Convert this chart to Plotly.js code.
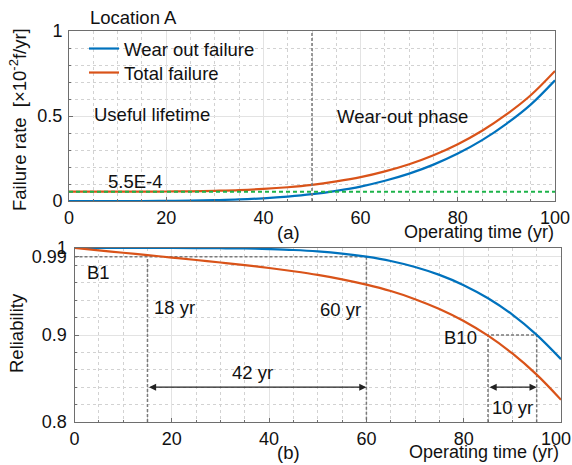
<!DOCTYPE html>
<html>
<head>
<meta charset="utf-8">
<script src="https://cdn.plot.ly/plotly-3.0.1.min.js"></script>
<style>html,body{margin:0;padding:0;background:#fff}#chart{width:572px;height:465px}</style>
</head>
<body>
<div id="chart"></div>
<script>
// ---- data ----
const years = [0,5,10,15,20,25,30,35,40,45,50,55,60,65,70,75,80,85,90,95,100];
// failure rate, units of 1e-2 failures / yr
const wearRate  = [0,0,0,0,0.001,0.002,0.005,0.009,0.016,0.026,0.040,0.060,0.085,0.119,0.161,0.214,0.279,0.358,0.454,0.567,0.710];
const totalRate = [0.055,0.055,0.055,0.055,0.056,0.057,0.060,0.064,0.071,0.081,0.095,0.115,0.140,0.174,0.216,0.269,0.334,0.413,0.509,0.622,0.765];
const constRateX = [0,100];
const constRateY = [0.055,0.055];
const phaseX = [50,50];
const phaseY = [0,1];
// reliability
const wearRel  = [1,1,1,1,1,0.9999,0.9997,0.9994,0.9987,0.9977,0.9961,0.9936,0.9900,0.9851,0.9782,0.9691,0.9573,0.9422,0.9234,0.9002,0.8722];
const totalRel = [1,0.9973,0.9945,0.9918,0.9890,0.9862,0.9833,0.9803,0.9770,0.9733,0.9691,0.9640,0.9579,0.9505,0.9412,0.9299,0.9161,0.8992,0.8788,0.8544,0.8255];
// B1 / B10 guide lines
const b1X = [15,15,null,0,60,null,60,60];
const b1Y = [0.8,0.99,null,0.99,0.99,null,0.99,0.8];
const b10X = [85,85,95,95];
const b10Y = [0.8,0.9,0.9,0.8];
const xTicks = [0,20,40,60,80,100];
const xTickText = ['0','20','40','60','80','100'];
const xTickText2 = ['0','20','40','60','80','100\u00a0\u00a0'];
const rateTicks = [0,0.5,1];
const rateTickText = ['0','0.5','1'];
const relTicks = [0.8,0.9,0.99,1];
const relTickText = ['0.8','0.9','0.99','1'];

const FONT = 'Liberation Sans, Arial, sans-serif';
const BLUE = '#0072BD', ORANGE = '#D95319', GREEN = '#1db34a', GUIDE = '#7a7a7a';
const W = 572, H = 465;
const TXT = 18.5;

const traces = [
  {x: years, y: wearRate, name: 'Wear out failure', legend: 'legend', mode: 'lines', line: {color: BLUE, width: 2.2, shape: 'spline'}, xaxis: 'x', yaxis: 'y'},
  {x: years, y: totalRate, name: 'Total failure', legend: 'legend2', mode: 'lines', line: {color: ORANGE, width: 2.2, shape: 'spline'}, xaxis: 'x', yaxis: 'y'},
  {x: constRateX, y: constRateY, mode: 'lines', showlegend: false, line: {color: GREEN, width: 2, dash: '4px,3px'}, xaxis: 'x', yaxis: 'y'},
  {x: phaseX, y: phaseY, mode: 'lines', showlegend: false, line: {color: GUIDE, width: 1.5, dash: '3px,2px'}, xaxis: 'x', yaxis: 'y'},
  {x: b1X, y: b1Y, mode: 'lines', showlegend: false, connectgaps: false, line: {color: GUIDE, width: 1.5, dash: '3px,2px'}, xaxis: 'x2', yaxis: 'y2'},
  {x: b10X, y: b10Y, mode: 'lines', showlegend: false, line: {color: GUIDE, width: 1.5, dash: '3px,2px'}, xaxis: 'x2', yaxis: 'y2'},
  {x: years, y: wearRel, mode: 'lines', showlegend: false, line: {color: BLUE, width: 2.2, shape: 'spline'}, xaxis: 'x2', yaxis: 'y2'},
  {x: years, y: totalRel, mode: 'lines', showlegend: false, line: {color: ORANGE, width: 2.2, shape: 'spline'}, xaxis: 'x2', yaxis: 'y2'}
];

const minorGrid = (tick0, dtick) => ({tickmode: 'linear', tick0, dtick, showgrid: true, griddash: 'dot', gridcolor: '#d2d2d2', ticks: 'inside', ticklen: 2, tickcolor: '#6e6e6e'});

function axisBase(extra) {
  return Object.assign({
    showline: true, mirror: true, linecolor: '#6e6e6e', linewidth: 1,
    ticks: 'inside', ticklen: 4, tickcolor: '#6e6e6e',
    showgrid: true, gridcolor: '#e3e3e3', gridwidth: 1,
    zeroline: false, ticklabeloverflow: 'allow',
    tickfont: {family: FONT, size: 18, color: '#111'}
  }, extra);
}

const ann = (text, xref, yref, x, y, xa, ya, extra) => Object.assign({text, xref, yref, x, y, xanchor: xa, yanchor: ya, showarrow: false, font: {family: FONT, size: TXT, color: '#111'}}, extra || {});
const legendBox = (yPix) => ({x: 84/W, y: 1 - yPix/H, xanchor: 'left', yanchor: 'middle', bgcolor: 'rgba(0,0,0,0)', borderwidth: 0, font: {family: FONT, size: TXT, color: '#111'}, itemwidth: 30});

const layout = {
  width: W, height: H,
  margin: {l: 0, r: 0, t: 0, b: 0},
  paper_bgcolor: '#fff', plot_bgcolor: '#fff',
  font: {family: FONT, size: 18, color: '#111'},
  showlegend: true,
  legend: legendBox(49),
  legend2: legendBox(73),
  xaxis: axisBase({domain: [69/W, 555/W], anchor: 'y', range: [0,100], tickvals: xTicks, ticktext: xTickText, minor: minorGrid(0, 5)}),
  yaxis: axisBase({domain: [1 - 201/H, 1 - 31/H], anchor: 'x', range: [0,1], tickvals: rateTicks, ticktext: rateTickText, minor: minorGrid(0, 0.1), ticklabelstandoff: 2}),
  xaxis2: axisBase({domain: [74.5/W, 561/W], anchor: 'y2', range: [0,100], tickvals: xTicks, ticktext: xTickText2, minor: minorGrid(0, 5)}),
  yaxis2: axisBase({domain: [1 - 422/H, 1 - 248/H], anchor: 'x2', range: [0.8,1], tickvals: relTicks, ticktext: relTickText, minor: minorGrid(0.8, 0.02), ticklabelstandoff: 3}),
  annotations: [
    ann('Location A', 'paper', 'paper', 88/W, 1 - 18/H, 'left', 'middle'),
    ann('Failure rate  [×10<sup>-2</sup>f/yr]', 'paper', 'paper', 18/W, 1 - 120/H, 'center', 'middle', {textangle: -90}),
    ann('Useful lifetime', 'x', 'y', 4.7, 0.51, 'left', 'middle'),
    ann('Wear-out phase', 'x', 'y', 54.7, 0.495, 'left', 'middle'),
    ann('5.5E-4', 'x', 'y', 7.6, 0.112, 'left', 'middle'),
    ann('(a)', 'paper', 'paper', 288/W, 1 - 232/H, 'center', 'middle'),
    ann('Operating time (yr)', 'paper', 'paper', 556/W, 1 - 232/H, 'right', 'middle', {font: {family: FONT, size: 18, color: '#111'}}),
    ann('Reliability', 'paper', 'paper', 16/W, 1 - 333/H, 'center', 'middle', {textangle: -90}),
    ann('B1', 'x2', 'y2', 2.2, 0.972, 'left', 'middle'),
    ann('18 yr', 'x2', 'y2', 15.9, 0.932, 'left', 'middle'),
    ann('42 yr', 'x2', 'y2', 32, 0.857, 'left', 'middle'),
    ann('60 yr', 'x2', 'y2', 50, 0.929, 'left', 'middle'),
    ann('B10', 'x2', 'y2', 75.5, 0.897, 'left', 'middle'),
    ann('10 yr', 'x2', 'y2', 85.4, 0.817, 'left', 'middle'),
    ann('(b)', 'paper', 'paper', 288/W, 1 - 452/H, 'center', 'middle'),
    ann('Operating time (yr)', 'paper', 'paper', 561/W, 1 - 452/H, 'right', 'middle', {font: {family: FONT, size: 18, color: '#111'}}),
    {xref: 'x2', yref: 'y2', axref: 'x2', ayref: 'y2', x: 60, y: 0.84, ax: 15, ay: 0.84, text: '', showarrow: true,
      arrowhead: 2, arrowside: 'end+start', arrowsize: 1.1, arrowwidth: 1.3, arrowcolor: '#222', standoff: 0, startstandoff: 0},
    {xref: 'x2', yref: 'y2', axref: 'x2', ayref: 'y2', x: 95, y: 0.84, ax: 85, ay: 0.84, text: '', showarrow: true,
      arrowhead: 2, arrowside: 'end+start', arrowsize: 1.1, arrowwidth: 1.3, arrowcolor: '#222', standoff: 0, startstandoff: 0}
  ]
};

Plotly.newPlot('chart', traces, layout, {displayModeBar: false, staticPlot: true});
</script>
</body>
</html>
